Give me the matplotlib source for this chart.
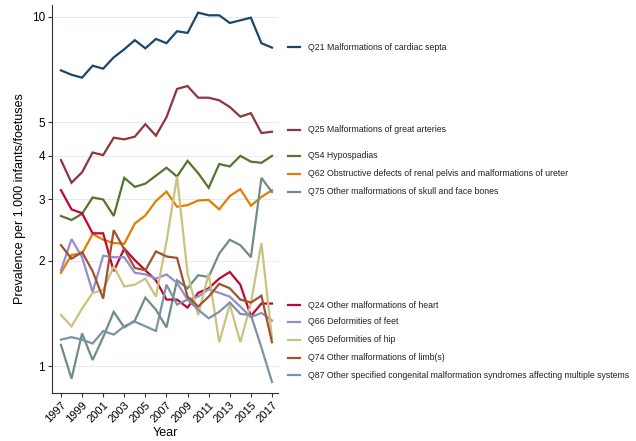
import matplotlib
matplotlib.use("Agg")
import matplotlib.pyplot as plt
from matplotlib.ticker import FixedLocator, NullLocator

plt.rcParams['font.family'] = ['Liberation Sans', 'DejaVu Sans']

years = list(range(1997, 2018))

# prevalence per 1,000 infants/foetuses
q21 = [7.03, 6.83, 6.70, 7.25, 7.11, 7.66, 8.08, 8.58, 8.13, 8.65, 8.41,
       9.10, 9.00, 10.29, 10.11, 10.11, 9.61, 9.78, 9.95, 8.41, 8.17]
q25 = [3.89, 3.35, 3.59, 4.09, 4.02, 4.51, 4.46, 4.54, 4.93, 4.57, 5.16,
       6.22, 6.34, 5.87, 5.87, 5.77, 5.52, 5.18, 5.30, 4.65, 4.69]
q54 = [2.69, 2.62, 2.73, 3.04, 3.00, 2.69, 3.46, 3.26, 3.33, 3.51, 3.70,
       3.49, 3.87, 3.57, 3.24, 3.79, 3.73, 4.00, 3.85, 3.82, 4.00]
q62 = [1.85, 2.08, 2.10, 2.39, 2.30, 2.25, 2.24, 2.56, 2.70, 2.97, 3.16,
       2.86, 2.89, 2.98, 2.99, 2.81, 3.07, 3.21, 2.88, 3.05, 3.19]
q75 = [1.15, 0.92, 1.24, 1.04, 1.21, 1.43, 1.29, 1.35, 1.57, 1.45, 1.29,
       1.76, 1.67, 1.82, 1.80, 2.10, 2.30, 2.22, 2.05, 3.46, 3.15]
q24 = [3.19, 2.81, 2.74, 2.40, 2.40, 1.87, 2.17, 2.01, 1.88, 1.76, 1.55,
       1.55, 1.47, 1.62, 1.67, 1.78, 1.86, 1.71, 1.39, 1.51, 1.51]
q66 = [1.88, 2.31, 2.05, 1.63, 2.07, 2.05, 2.05, 1.85, 1.83, 1.78, 1.83,
       1.73, 1.55, 1.58, 1.66, 1.62, 1.58, 1.48, 1.38, 1.42, 1.35]
q65 = [1.40, 1.30, 1.46, 1.62, 1.65, 1.93, 1.69, 1.71, 1.78, 1.58, 2.27,
       3.49, 1.84, 1.40, 1.84, 1.17, 1.50, 1.17, 1.51, 2.25, 1.20]
q74 = [2.22, 2.03, 2.12, 1.87, 1.56, 2.45, 2.16, 1.91, 1.88, 2.13, 2.06,
       2.04, 1.58, 1.48, 1.58, 1.72, 1.67, 1.55, 1.52, 1.59, 1.17]
q87 = [1.19, 1.21, 1.19, 1.16, 1.26, 1.23, 1.30, 1.34, 1.30, 1.26, 1.71,
       1.50, 1.55, 1.45, 1.37, 1.43, 1.52, 1.41, 1.40, 1.13, 0.90]

labels = [
    "Q21 Malformations of cardiac septa",
    "Q25 Malformations of great arteries",
    "Q54 Hypospadias",
    "Q62 Obstructive defects of renal pelvis and malformations of ureter",
    "Q75 Other malformations of skull and face bones",
    "Q24 Other malformations of heart",
    "Q66 Deformities of feet",
    "Q65 Deformities of hip",
    "Q74 Other malformations of limb(s)",
    "Q87 Other specified congenital malformation syndromes affecting multiple systems",
]
series = [q21, q25, q54, q62, q75, q24, q66, q65, q74, q87]
colors = ["#1a476f", "#90353b", "#55752f", "#e37e00", "#6e8e84",
          "#c10534", "#938dd2", "#cac27e", "#a0522d", "#7b92a8"]

y_ticks = [1, 2, 3, 4, 5, 10]
x_ticks = list(range(1997, 2018, 2))

# pixel rows of the labels on the right
label_rows = [47, 130, 156, 174, 192, 305, 322, 340, 357.5, 375]

fig = plt.figure(figsize=(6.36, 4.41), dpi=100)
ax = fig.add_axes([52 / 636, 1 - 393 / 441, 226 / 636, 388 / 441])

for vals, col in zip(series, colors):
    ax.plot(years, vals, color=col, lw=1.6, solid_joinstyle='miter')

ax.set_yscale('log')
ax.set_ylim(0.837, 10.82)
ax.set_xlim(1996.15, 2017.57)
ax.yaxis.set_major_locator(FixedLocator(y_ticks))
ax.yaxis.set_minor_locator(NullLocator())
ax.set_yticklabels([str(t) for t in y_ticks], fontsize=8.5)
ax.set_xticks(x_ticks)
ax.set_xticklabels([str(t) for t in x_ticks], rotation=45, fontsize=8,
                   ha='right', rotation_mode='anchor')
ax.grid(axis='y', color='#e3ecee', lw=0.7)
ax.set_axisbelow(True)
for side in ['top', 'right']:
    ax.spines[side].set_visible(False)
ax.spines['left'].set_color('#333333')
ax.spines['bottom'].set_color('#333333')
ax.tick_params(length=3, width=0.8, color='#333333', pad=2)
ax.set_xlabel("Year", fontsize=9, labelpad=2)
ax.set_ylabel("Prevalence per 1.000 infants/foetuses", fontsize=9, labelpad=4)

# labels beside the line ends
lab = fig.add_axes([0, 0, 1, 1])
lab.set_xlim(0, 636)
lab.set_ylim(441, 0)
lab.axis('off')
for name, col, row in zip(labels, colors, label_rows):
    lab.plot([288, 300], [row, row], color=col, lw=1.6)
    lab.text(308, row, name, fontsize=6.35, va='center', ha='left', color='#222222')

plt.savefig("out.png", dpi=100)
